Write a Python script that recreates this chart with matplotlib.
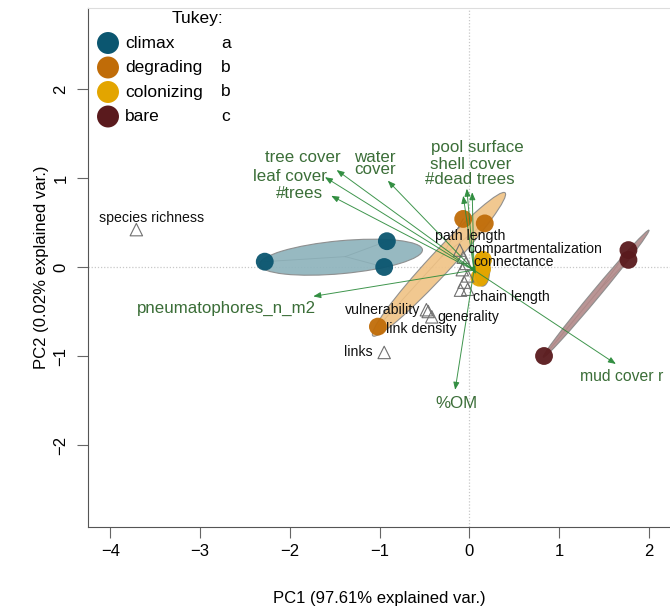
import numpy as np
import matplotlib
matplotlib.use("Agg")
import matplotlib.pyplot as plt
from matplotlib.patches import Ellipse

plt.rcParams['font.family'] = ['Liberation Sans', 'DejaVu Sans']

# ---------------- data ----------------
groups = ["climax", "degrading", "colonizing", "bare"]
tukey = ["a", "b", "b", "c"]
group_colors = ["#0b5670", "#c06c08", "#e3a500", "#5a1a1d"]
ellipse_fill = ["#8fb4bd", "#f0c488", "#e3a500", "#b48d8d"]

# sample scores (PC1, PC2)
climax_pc1 = [-2.28, -0.92, -0.95]
climax_pc2 = [0.06, 0.29, 0.00]
degrading_pc1 = [-0.07, 0.17, -1.02]
degrading_pc2 = [0.54, 0.49, -0.67]
colonizing_pc1 = [0.15, 0.11, 0.14]
colonizing_pc2 = [0.08, -0.12, -0.02]
bare_pc1 = [1.77, 1.77, 0.83]
bare_pc2 = [0.19, 0.08, -1.00]

# dispersion ellipses: centre x, centre y, length, width, angle (deg)
ell_cx = [-1.43, -0.34, 0.14, 1.41]
ell_cy = [0.11, 0.03, -0.02, -0.30]
ell_len = [1.82, 2.18, 0.39, 1.85]
ell_wid = [0.37, 0.25, 0.17, 0.09]
ell_ang = [5.3, 47.5, 92.0, 50.5]

# food-web metrics (passive, triangles)
metric_names = ["species richness", "links", "vulnerability", "generality",
                "link density", "path length", "compartmentalization",
                "connectance", "", "", "", "chain length", ""]
metric_pc1 = [-3.71, -0.95, -0.48, -0.42, -0.46, -0.11, -0.07,
              -0.04, -0.08, -0.02, -0.06, -0.02, -0.10]
metric_pc2 = [0.42, -0.96, -0.48, -0.56, -0.50, 0.19, 0.11,
              0.04, -0.03, -0.10, -0.17, -0.25, -0.26]

# environmental loadings (arrows)
env_names = ["tree cover", "leaf cover", "#trees", "water\ncover",
             "pool surface", "shell cover", "#dead trees",
             "pneumatophores_n_m2", "%OM", "mud cover r", ""]
env_pc1 = [-1.48, -1.61, -1.54, -0.91, -0.03, 0.03, -0.07,
           -1.74, -0.16, 1.63, 0.07]
env_pc2 = [1.09, 1.01, 0.80, 0.97, 0.88, 0.84, 0.80,
           -0.33, -1.38, -1.09, -0.08]
arrow_origin = (0.05, -0.035)

xticks = [-4, -3, -2, -1, 0, 1, 2]
yticks = [-2, -1, 0, 1, 2]

# ---------------- label placement (pixels, style only) ----------------
metric_offsets = {
    "species richness": (15, 12, "center"),
    "links": (-12, 0, "right"),
    "vulnerability": (-6, 0, "right"),
    "generality": (6, 0, "left"),
    "link density": (-42, -18, "left"),
    "path length": (-25, 14, "left"),
    "compartmentalization": (4, 8, "left"),
    "connectance": (7, 1, "left"),
    "chain length": (5, -8, "left"),
}
env_offsets = [(-34, 12, "center"), (-35, 1, "center"), (-32, 2, "center"),
               (-13, 17, "center"), (11, 41, "center"), (-2, 28, "center"),
               (7, 16, "center"), (-87, -12, "center"), (1, -14, "center"),
               (-36, -12, "left"), (0, 0, "center")]
env_fontsize = [12.2] * 9 + [11.3, 12.2]

# ---------------- figure ----------------
fig = plt.figure(figsize=(6.7, 6.09), dpi=100)
ax = fig.add_axes([88 / 670, (609 - 527) / 609, 582 / 670, 519 / 609])
x0 = 469.5
ax.set_xlim((88 - x0) / 89.8, (670 - x0) / 89.8)
ax.set_ylim((267 - 527) / 89.0, (267 - 8) / 89.0)

ax.axhline(0, color="#c8c8c8", lw=0.9, ls=(0, (1, 1.5)), zorder=0)
ax.axvline(0, color="#c8c8c8", lw=0.9, ls=(0, (1, 1.5)), zorder=0)

pc1_all = [climax_pc1, degrading_pc1, colonizing_pc1, bare_pc1]
pc2_all = [climax_pc2, degrading_pc2, colonizing_pc2, bare_pc2]

# spider lines (under ellipses, showing faintly)
for i in range(4):
    xs, ys = np.array(pc1_all[i]), np.array(pc2_all[i])
    cx, cy = xs.mean(), ys.mean()
    for xx, yy in zip(xs, ys):
        ax.plot([cx, xx], [cy, yy], color="#3a2a20", lw=0.7, alpha=0.8, zorder=0.5)

for i in range(4):
    e = Ellipse((ell_cx[i], ell_cy[i]), ell_len[i], ell_wid[i], angle=ell_ang[i],
                facecolor=ellipse_fill[i], edgecolor="#8a8a8a", lw=0.8,
                alpha=0.93 if i != 2 else 1.0, zorder=1)
    ax.add_patch(e)

for i in range(4):
    ax.scatter(pc1_all[i], pc2_all[i], s=165, color=group_colors[i],
               edgecolors="none", alpha=0.95, zorder=3)

ax.scatter(metric_pc1, metric_pc2, s=80, marker="^", facecolors="none",
           edgecolors="#707070", linewidths=0.8, zorder=4)

for name, x, y in zip(metric_names, metric_pc1, metric_pc2):
    if name in metric_offsets:
        dx, dy, ha = metric_offsets[name]
        ax.annotate(name, (x, y), xytext=(dx, dy), textcoords="offset pixels",
                    ha=ha, va="center", fontsize=10.2, color="#111111", zorder=6)

for k, (name, x, y) in enumerate(zip(env_names, env_pc1, env_pc2)):
    dx, dy, ha = env_offsets[k]
    ax.annotate("", xy=(x, y), xytext=arrow_origin,
                arrowprops=dict(arrowstyle="-|>,head_length=0.45,head_width=0.18",
                                color="#2a8a3a", lw=0.7, alpha=0.9,
                                shrinkA=0, shrinkB=0), zorder=5)
    if name:
        ax.annotate(name, (x, y), xytext=(dx, dy), textcoords="offset pixels",
                    ha=ha, va="center", fontsize=env_fontsize[k], color="#3b6e38",
                    linespacing=0.8, zorder=6, annotation_clip=False)

# legend
def fx(px):
    return (px - 88) / 582
def fy(py):
    return (527 - py) / 519

ax.text(fx(197), fy(19), "Tukey:", transform=ax.transAxes, ha="center",
        va="center", fontsize=12.5)
for k in range(4):
    yy = fy(43 + 24.5 * k)
    ax.scatter([fx(108)], [yy], s=250, color=group_colors[k], transform=ax.transAxes,
               edgecolors="none", clip_on=False, zorder=7)
    ax.text(fx(125), yy, groups[k], transform=ax.transAxes, ha="left",
            va="center", fontsize=12.5)
    ax.text(fx(221), yy, tukey[k], transform=ax.transAxes, ha="left",
            va="center", fontsize=12.5)

# axes style
ax.spines["right"].set_visible(False)
ax.spines["top"].set_color("#dddddd")
ax.spines["left"].set_color("#555555")
ax.spines["bottom"].set_color("#555555")
ax.set_xticks(xticks)
ax.set_yticks(yticks)
ax.set_xticklabels([str(t).replace("-", "\u2212") for t in xticks])
ax.set_yticklabels([str(t).replace("-", "\u2212") for t in yticks], rotation=90,
                   va="center")
ax.tick_params(axis="both", direction="out", length=8, color="#666666",
               labelsize=12)
ax.tick_params(axis="x", pad=4)
ax.tick_params(axis="y", pad=6)
ax.set_xlabel("PC1 (97.61% explained var.)", fontsize=12, labelpad=23)
ax.set_ylabel("PC2 (0.02% explained var.)", fontsize=12, labelpad=3)

fig.savefig("out.png", dpi=100)
